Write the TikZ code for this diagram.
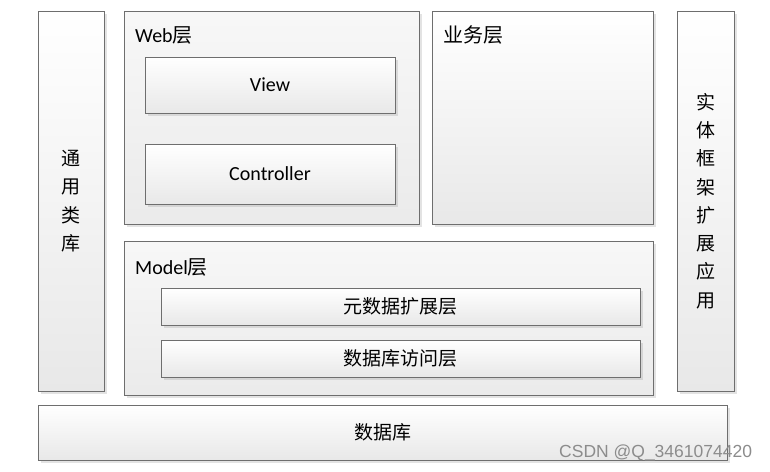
\documentclass[tikz,border=0pt]{standalone}
\usepackage{fontspec}
\setmainfont{Carlito}
\newfontfamily\cjk{Noto Sans CJK SC}
\newfontfamily\wm{Liberation Sans}
\usetikzlibrary{shadows}
\definecolor{edge}{HTML}{6E6E6E}
\tikzset{
  box/.style={draw=edge, line width=0.9pt, top color=white, bottom color=black!9,
    drop shadow={opacity=0.22, shadow xshift=2.5pt, shadow yshift=-2.5pt},
    inner sep=0pt, font=\fontsize{20}{24}\selectfont},
  outer/.style={box, top color=black!3, bottom color=black!8},
  lbl/.style={anchor=west, inner sep=0pt, font=\fontsize{20}{24}\selectfont},
  vtext/.style={align=center, inner sep=0pt, font=\fontsize{19}{28.3}\selectfont\cjk}
}
\begin{document}
\begin{tikzpicture}[x=1pt,y=-1pt]
\useasboundingbox[fill=white] (0,0) rectangle (770,471);
% left column
\node[box, minimum width=66, minimum height=380] (lib) at (71,201) {};
\node[vtext] (libt) at (lib.center) {通\\用\\类\\库};
% web layer
\node[outer, minimum width=295, minimum height=213] (web) at (271.5,117.5) {};
\node[lbl] (webt) at (135,35) {Web{\cjk 层}};
\node[box, minimum width=250, minimum height=56] (view) at (270,85) {View};
\node[box, minimum width=250, minimum height=60] (ctrl) at (270,174) {Controller};
% business layer
\node[box, minimum width=221, minimum height=213] (biz) at (542.5,117.5) {};
\node[lbl] (bizt) at (443,35) {\cjk 业务层};
% right column
\node[box, minimum width=57, minimum height=380] (ef) at (705.5,201) {};
\node[vtext] (eft) at (ef.center) {实\\体\\框\\架\\扩\\展\\应\\用};
% model layer
\node[outer, minimum width=529, minimum height=154] (model) at (388.5,318) {};
\node[lbl] (modelt) at (135,267) {Model{\cjk 层}};
\node[box, minimum width=479, minimum height=37, font=\fontsize{19}{24}\selectfont\cjk] (meta) at (400.5,306.5) {元数据扩展层};
\node[box, minimum width=479, minimum height=37, font=\fontsize{19}{24}\selectfont\cjk] (dal) at (400.5,358.5) {数据库访问层};
% database
\node[box, minimum width=689, minimum height=55, font=\fontsize{19}{24}\selectfont\cjk] (db) at (382.5,432.5) {数据库};
% watermark
\node[anchor=west, inner sep=0pt, text=black!45, font=\wm\fontsize{17.5}{20}\selectfont] (wmk) at (559,453) {CSDN @Q\_3461074420};
\end{tikzpicture}
\end{document}
